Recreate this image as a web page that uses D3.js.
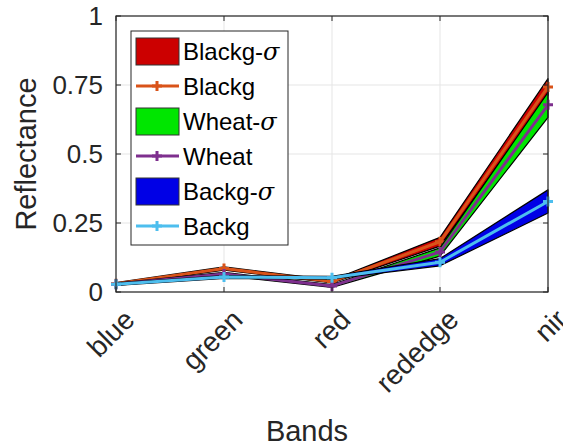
<!DOCTYPE html>
<html><head><meta charset="utf-8">
<script src="https://cdn.jsdelivr.net/npm/d3@7"></script>
<style>body{margin:0;background:#fff}svg{display:block}text{font-family:"Liberation Sans",Arial,sans-serif}</style>
</head><body>
<svg id="c" width="563" height="448"></svg>
<script>
const bands = ["blue","green","red","rededge","nir"];
const yTicks = [0, 0.25, 0.5, 0.75, 1];
const yTickLabels = ["0","0.25","0.5","0.75","1"];
const blackgMean = [0.030, 0.085, 0.038, 0.182, 0.743];
const blackgStd  = [0.004, 0.006, 0.005, 0.016, 0.030];
const wheatMean  = [0.028, 0.065, 0.022, 0.145, 0.678];
const wheatStd   = [0.004, 0.006, 0.005, 0.015, 0.045];
const backgMean  = [0.028, 0.054, 0.052, 0.108, 0.328];
const backgStd   = [0.004, 0.005, 0.005, 0.013, 0.042];
const seriesNames = ["Blackg","Wheat","Backg"];
const fillColors = ["#cc0000","#00e600","#0000e6"];
const lineColors = ["#d95319","#7e2f8e","#4dbeee"];

const series = [
  {name: seriesNames[0], mean: blackgMean, std: blackgStd, fill: fillColors[0], line: lineColors[0]},
  {name: seriesNames[1], mean: wheatMean, std: wheatStd, fill: fillColors[1], line: lineColors[1]},
  {name: seriesNames[2], mean: backgMean, std: backgStd, fill: fillColors[2], line: lineColors[2]}
];

const svg = d3.select("#c");
const L = 116, R = 548, T = 16, B = 292;
const x = d3.scalePoint().domain(bands).range([L, R]);
const y = d3.scaleLinear().domain([0, 1]).range([B, T]);

// grid
const g = svg.append("g");
g.selectAll(".gx").data(bands).enter().append("line")
  .attr("x1", d => x(d)).attr("x2", d => x(d)).attr("y1", T).attr("y2", B)
  .attr("stroke", "#e5e5e5").attr("stroke-width", 1);
g.selectAll(".gy").data(yTicks).enter().append("line")
  .attr("x1", L).attr("x2", R).attr("y1", d => y(d)).attr("y2", d => y(d))
  .attr("stroke", "#e5e5e5").attr("stroke-width", 1);

// data
const area = d3.area().x((d, i) => x(bands[i])).y0(d => y(d[0])).y1(d => y(d[1]));
const line = d3.line().x((d, i) => x(bands[i])).y(d => y(d));
series.forEach(s => {
  const pts = s.mean.map((m, i) => [m - s.std[i], m + s.std[i]]);
  svg.append("path").datum(pts).attr("d", area)
    .attr("fill", s.fill).attr("stroke", "#000").attr("stroke-width", 1.2).attr("stroke-linejoin", "round");
  svg.append("path").datum(s.mean).attr("d", line)
    .attr("fill", "none").attr("stroke", s.line).attr("stroke-width", 3).attr("stroke-linejoin", "round");
  const mk = svg.append("g");
  s.mean.forEach((m, i) => {
    const cx = x(bands[i]), cy = y(m);
    mk.append("path").attr("d", `M${cx-5},${cy}H${cx+5}M${cx},${cy-5}V${cy+5}`)
      .attr("stroke", s.line).attr("stroke-width", 3);
  });
});

// axes box
const ax = svg.append("g");
ax.append("rect").attr("x", L).attr("y", T).attr("width", R - L).attr("height", B - T)
  .attr("fill", "none").attr("stroke", "#262626").attr("stroke-width", 1.2);
bands.forEach(b => {
  ax.append("line").attr("x1", x(b)).attr("x2", x(b)).attr("y1", B).attr("y2", B - 5).attr("stroke", "#262626");
  ax.append("line").attr("x1", x(b)).attr("x2", x(b)).attr("y1", T).attr("y2", T + 5).attr("stroke", "#262626");
});
yTicks.forEach(v => {
  ax.append("line").attr("x1", L).attr("x2", L + 5).attr("y1", y(v)).attr("y2", y(v)).attr("stroke", "#262626");
  ax.append("line").attr("x1", R).attr("x2", R - 5).attr("y1", y(v)).attr("y2", y(v)).attr("stroke", "#262626");
});
yTicks.forEach((v, i) => {
  ax.append("text").attr("x", L - 13).attr("y", y(v)).attr("dy", "0.36em")
    .attr("text-anchor", "end").attr("font-size", 26).attr("fill", "#262626").text(yTickLabels[i]);
});
bands.forEach(b => {
  ax.append("text").attr("transform", `translate(${x(b) + 6.5},${B + 15.5}) rotate(-45)`)
    .attr("text-anchor", "end").attr("dy", "0.7em").attr("font-size", 28).attr("fill", "#262626").text(b);
});
svg.append("text").attr("transform", `translate(36,${(T + B) / 2}) rotate(-90)`)
  .attr("text-anchor", "middle").attr("font-size", 29).attr("fill", "#262626").text("Reflectance");
svg.append("text").attr("x", 307).attr("y", 441)
  .attr("text-anchor", "middle").attr("font-size", 29).attr("fill", "#262626").text("Bands");

// legend
const lg = svg.append("g");
lg.append("rect").attr("x", 131).attr("y", 31).attr("width", 157).attr("height", 214)
  .attr("fill", "#fff").attr("stroke", "#262626").attr("stroke-width", 1);
const rowY0 = 51, rowDy = 35;
series.forEach((s, k) => {
  const yf = rowY0 + (2 * k) * rowDy, yl = rowY0 + (2 * k + 1) * rowDy;
  lg.append("rect").attr("x", 136).attr("y", yf - 13).attr("width", 43).attr("height", 27)
    .attr("fill", s.fill).attr("stroke", "#333").attr("stroke-width", 1);
  const t = lg.append("text").attr("x", 183).attr("y", yf).attr("dy", "0.36em").attr("font-size", 24).attr("fill", "#000");
  t.append("tspan").text(s.name + "-");
  t.append("tspan").attr("font-style", "italic").attr("font-family", "DejaVu Serif, serif").text("σ");
  lg.append("line").attr("x1", 136).attr("x2", 179).attr("y1", yl).attr("y2", yl).attr("stroke", s.line).attr("stroke-width", 3);
  lg.append("path").attr("d", `M152,${yl}H162M157,${yl-5}V${yl+5}`).attr("stroke", s.line).attr("stroke-width", 3);
  lg.append("text").attr("x", 183).attr("y", yl).attr("dy", "0.36em").attr("font-size", 24).attr("fill", "#000").text(s.name);
});
</script>
</body></html>
